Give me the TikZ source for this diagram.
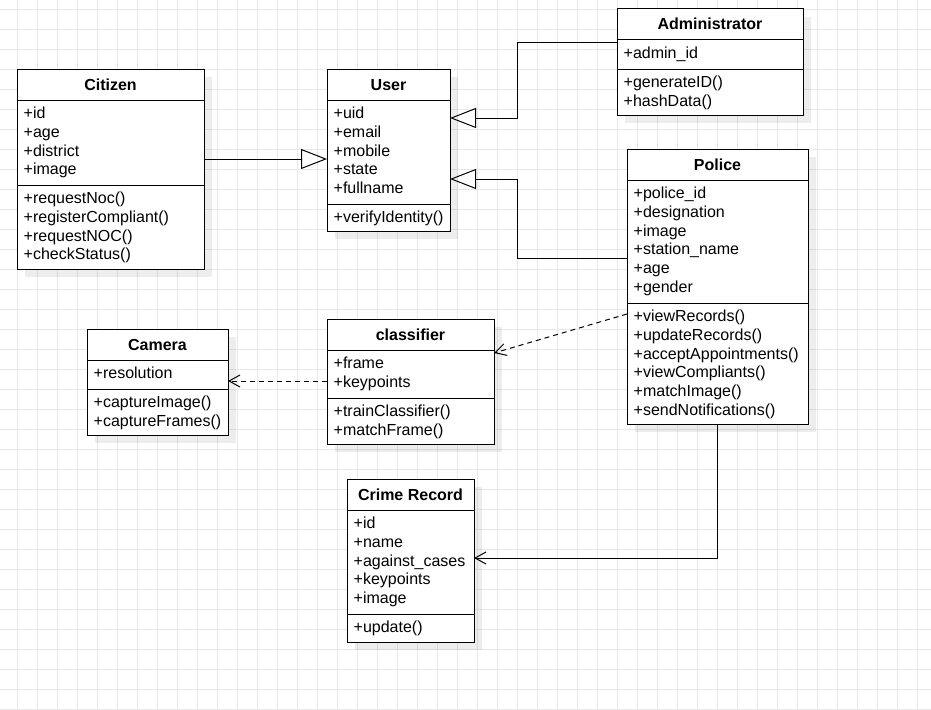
\documentclass[tikz,border=0pt]{standalone}
\usepackage{fontspec}
\setmainfont{Liberation Sans}
\usetikzlibrary{arrows.meta,shadows,calc}
\definecolor{gridc}{RGB}{232,232,232}
\tikzset{
 cls/.style={draw=black, fill=white, line width=1pt, anchor=north west, inner sep=0pt, outer sep=0pt,
   drop shadow={shadow xshift=8pt, shadow yshift=-8pt, fill=black, opacity=0.07}},
 ttl/.style={anchor=base, font=\fontsize{16}{19}\selectfont\bfseries, inner sep=0pt},
 item/.style={anchor=base west, font=\fontsize{16}{19}\selectfont, inner sep=0pt},
 sepline/.style={line width=1pt},
 gridline/.style={draw=gridc, line width=0.8pt},
 inh/.style={line width=1pt, -{Triangle[open, length=26pt, width=20pt, line width=1pt]}},
 assoc/.style={line width=1pt, -{Straight Barb[length=11pt, width=12pt, line width=1pt]}},
 dep/.style={assoc, dash pattern=on 5pt off 4pt},
}
\newcommand\mkclass[6]{%
 \node[cls, minimum width=#3pt, minimum height=#4pt] (#1) at (#2) {};
 \draw[sepline] ([yshift=-31pt]#1.north west) -- ([yshift=-31pt]#1.north east);
 \draw[sepline] ([yshift=-#6pt]#1.north west) -- ([yshift=-#6pt]#1.north east);
 \node[ttl] at ([yshift=-21pt]#1.north) {#5};
}
\newcommand\members[3]{%
 \foreach \mtxt [count=\i from 0] in {#3} {\node[item] at ([xshift=6.5pt,yshift={-(#2+18.8*\i)*1pt}]#1.north west) {\mtxt};}%
}
\begin{document}
\begin{tikzpicture}[x=1pt,y=-1pt]
\useasboundingbox (0,0) rectangle (931,709);
\fill[white] (0,0) rectangle (931,709);
\foreach \gx in {0,...,47} \draw[gridline] ({-2.7+20*\gx},0) -- ({-2.7+20*\gx},709);
\foreach \gy in {0,...,35} \draw[gridline] (0,{9.3+20*\gy}) -- (931,{9.3+20*\gy});

\mkclass{citizen}{17,69}{187}{200}{Citizen}{116}
\members{citizen}{49.5}{+id,+age,+district,+image}
\members{citizen}{134.5}{+requestNoc(),+registerCompliant(),+requestNOC(),+checkStatus()}

\mkclass{user}{327,69}{123}{162}{User}{135}
\members{user}{49.5}{+uid,+email,+mobile,+state,+fullname}
\members{user}{153.5}{+verifyIdentity()}

\mkclass{admin}{617,9}{186}{106}{Administrator}{60}
\members{admin}{49.5}{+admin\_id}
\members{admin}{78.5}{+generateID(),+hashData()}

\mkclass{police}{627,149}{181}{275}{Police}{154}
\members{police}{49.5}{+police\_id,+designation,+image,+station\_name,+age,+gender}
\members{police}{172.5}{+viewRecords(),+updateRecords(),+acceptAppointments(),+viewCompliants(),+matchImage(),+sendNotifications()}

\mkclass{camera}{87,329}{141}{106}{Camera}{60}
\members{camera}{49.5}{+resolution}
\members{camera}{78.5}{+captureImage(),+captureFrames()}

\mkclass{classifier}{327,319}{167}{125}{classifier}{79}
\members{classifier}{49.5}{+frame,+keypoints}
\members{classifier}{97.5}{+trainClassifier(),+matchFrame()}

\mkclass{crime}{347,479}{127}{163}{Crime Record}{135}
\members{crime}{49.5}{+id,+name,+against\_cases,+keypoints,+image}
\members{crime}{153.5}{+update()}

% connectors
\draw[inh] ([yshift=-90pt]citizen.north east) -- ([yshift=-90pt]user.north west);
\draw[inh] ([yshift=-34pt]admin.north west) -- ++(-100,0) |- ([yshift=-49pt]user.north east);
\draw[inh] ([yshift=-109pt]police.north west) -- ++(-110,0) |- ([yshift=-110pt]user.north east);
\draw[dep] ([yshift=-165pt]police.north west) -- ([yshift=-34pt]classifier.north east);
\draw[dep] ([yshift=-62pt]classifier.north west) -- ([yshift=-52pt]camera.north east);
\draw[assoc] (police.south) |- ([yshift=-79pt]crime.north east);
\end{tikzpicture}
\end{document}
